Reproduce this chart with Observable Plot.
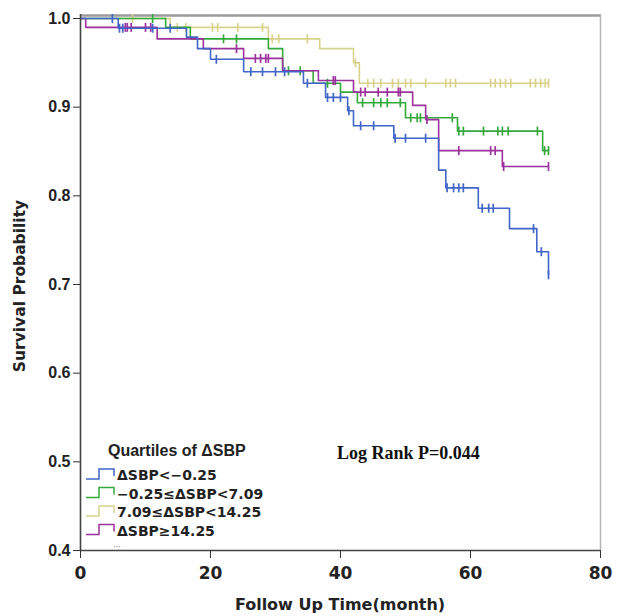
<!DOCTYPE html>
<html><head><meta charset="utf-8">
<script src="https://cdn.jsdelivr.net/npm/d3@7"></script>
<script src="https://cdn.jsdelivr.net/npm/@observablehq/plot@0.6"></script>
<style>
body{margin:0;background:#fff;}
#chart{width:623px;height:616px;}
</style></head><body><div id="chart"></div>
<script>
// ---- data ----
const groups = ["ΔSBP<−0.25", "−0.25≤ΔSBP<7.09", "7.09≤ΔSBP<14.25", "ΔSBP≥14.25"];
const colors = ["#4165c8", "#35a83c", "#d8d28c", "#9b329b"];
const legendTitle = "Quartiles of ΔSBP";
const statText = "Log Rank P=0.044";
const xTitle = "Follow Up Time(month)";
const yTitle = "Survival Probability";
const xTicks = [0, 20, 40, 60, 80];
const yTicks = [0.4, 0.5, 0.6, 0.7, 0.8, 0.9, 1.0];
const maxTime = 72;

// blue: ΔSBP<−0.25
const blueTimes = [5.8, 16.3, 18.0, 20.0, 25.1, 34.3, 37.7, 41.1, 42.0, 48.2, 55.1, 56.2, 61.2, 66.0, 70.2, 72.0];
const blueSurv  = [0.989, 0.979, 0.966, 0.954, 0.940, 0.927, 0.911, 0.896, 0.879, 0.865, 0.829, 0.809, 0.786, 0.763, 0.737, 0.711];
const blueCensor = [4.9, 6.0, 6.5, 11.1, 13.8, 20.9, 26.2, 28.0, 30.0, 31.4, 34.9, 38.0, 38.9, 40.0, 41.3, 43.1, 45.1, 48.4, 50.0, 53.1, 56.4, 57.4, 58.2, 58.9, 61.8, 62.8, 63.5, 69.7, 70.9, 72.0];

// green: −0.25≤ΔSBP<7.09
const greenTimes = [13.1, 16.9, 28.9, 31.1, 35.8, 40.0, 42.6, 50.0, 58.0, 71.1];
const greenSurv  = [0.990, 0.977, 0.966, 0.941, 0.927, 0.917, 0.905, 0.888, 0.873, 0.851];
const greenCensor = [11.1, 22.0, 24.0, 32.0, 33.8, 38.0, 43.4, 45.1, 46.2, 47.2, 49.2, 50.8, 51.8, 52.3, 57.2, 58.2, 58.9, 62.0, 64.2, 64.9, 65.8, 70.3, 71.4, 72.0];

// yellow: 7.09≤ΔSBP<14.25
const yellowTimes = [13.8, 28.9, 36.8, 42.0, 42.9];
const yellowSurv  = [0.990, 0.977, 0.966, 0.950, 0.927];
const yellowCensor = [8.0, 14.9, 16.2, 20.3, 21.1, 24.2, 28.0, 29.5, 30.5, 34.9, 42.3, 44.2, 45.1, 46.2, 48.0, 48.9, 50.0, 50.8, 53.1, 56.2, 56.9, 57.7, 63.1, 63.8, 64.6, 65.4, 66.2, 69.2, 70.0, 70.8, 71.5, 72.0];

// purple: ΔSBP≥14.25
const purpleTimes = [0.8, 11.8, 18.9, 25.1, 31.1, 36.6, 42.0, 51.1, 53.1, 55.1, 64.9];
const purpleSurv  = [0.990, 0.977, 0.966, 0.955, 0.941, 0.930, 0.917, 0.902, 0.886, 0.851, 0.833];
const purpleCensor = [6.9, 7.2, 7.8, 10.0, 10.8, 24.0, 26.9, 27.7, 28.5, 28.9, 38.9, 39.2, 43.1, 43.8, 45.8, 47.2, 48.9, 49.2, 53.3, 58.2, 63.1, 63.8, 65.1, 72.0];

// ---- build tables ----
const series = [
  [blueTimes, blueSurv, blueCensor],
  [greenTimes, greenSurv, greenCensor],
  [yellowTimes, yellowSurv, yellowCensor],
  [purpleTimes, purpleSurv, purpleCensor]
];
const stepPts = [], censPts = [];
series.forEach(([T, S, C], i) => {
  const g = groups[i];
  stepPts.push({t: 0, s: 1, g});
  T.forEach((t, k) => stepPts.push({t, s: S[k], g}));
  stepPts.push({t: maxTime, s: S[S.length - 1], g});
  C.forEach(c => {
    let s = 1;
    T.forEach((t, k) => { if (t <= c) s = S[k]; });
    censPts.push({t: c, s, g});
  });
});
const order = [2, 1, 3, 0];

const vbar = {draw(ctx, size) { const r = Math.sqrt(size / Math.PI); ctx.moveTo(0, -r); ctx.lineTo(0, r); }};

const marks = [];
order.forEach(i => {
  const g = groups[i];
  marks.push(Plot.line(stepPts.filter(d => d.g === g), {x: "t", y: "s", curve: "step-after", stroke: colors[i], strokeWidth: 1.6}));
  marks.push(Plot.dot(censPts.filter(d => d.g === g), {x: "t", y: "s", symbol: vbar, r: 4.5, stroke: colors[i], strokeWidth: 1.7, fill: "none"}));
});

const chart = Plot.plot({
  width: 623, height: 616,
  marginLeft: 80, marginRight: 23, marginTop: 18, marginBottom: 66,
  style: {background: "#fff", overflow: "visible", color: "#222"},
  x: {domain: [0, 80]},
  y: {domain: [0.4, 1.0]},
  marks: [
    Plot.ruleY([1.0], {stroke: "#9a9a9a", strokeWidth: 2.5, dy: -3}),
    Plot.ruleX([80], {stroke: "#b5b5b5", strokeWidth: 1.5, insetTop: -4}),
    ...marks,
    Plot.ruleX([0], {stroke: "#444", strokeWidth: 1.6, insetTop: -4}),
    Plot.ruleY([0.4], {stroke: "#444", strokeWidth: 1.6}),
    Plot.axisX({ticks: xTicks, tickSize: 8, tickPadding: 8, stroke: "#333", label: null,
      fontFamily: "'DejaVu Sans', sans-serif", fontSize: 17, fontWeight: "bold", fill: "#222"}),
    Plot.axisY({ticks: yTicks, tickSize: 7, tickPadding: 3, tickFormat: d3.format(".1f"), stroke: "#333", label: null,
      fontFamily: "'Liberation Sans', Arial, sans-serif", fontSize: 16, fontWeight: "bold", fill: "#222"})
  ]
});
document.getElementById("chart").appendChild(chart);

// ---- titles, legend and annotation ----
const svg = d3.select(chart);
svg.append("text").attr("x", 340).attr("y", 610).attr("text-anchor", "middle")
  .attr("font-family", "'DejaVu Sans', sans-serif").attr("font-size", 16).attr("font-weight", "bold").attr("fill", "#222").text(xTitle);
svg.append("text").attr("transform", "translate(25,286) rotate(-90)").attr("text-anchor", "middle")
  .attr("font-family", "'DejaVu Sans', sans-serif").attr("font-size", 15.5).attr("font-weight", "bold").attr("fill", "#222").text(yTitle);

const lg = svg.append("g").attr("font-family", "'DejaVu Sans', sans-serif").attr("fill", "#222").attr("text-anchor", "start");
lg.append("text").attr("x", 108).attr("y", 456).attr("font-size", 16).attr("font-weight", "bold").attr("font-family", "'Liberation Sans', Arial, sans-serif").text(legendTitle);
groups.forEach((g, i) => {
  const y = 475 + i * 18.5;
  lg.append("path").attr("d", `M86,${y + 4}H99V${y - 6}H114V${y + 1}`).attr("fill", "none").attr("stroke", colors[i]).attr("stroke-width", 1.5);
  lg.append("text").attr("x", 117).attr("y", y + 5).attr("font-size", 14).attr("font-weight", "bold").text(g);
});
lg.append("text").attr("x", 113).attr("y", 547).attr("font-size", 8).attr("fill", "#777").text("...");
svg.append("text").attr("x", 337).attr("y", 459).attr("text-anchor", "start").attr("font-family", "'Liberation Serif', 'DejaVu Serif', serif")
  .attr("font-size", 18).attr("font-weight", "bold").attr("fill", "#111").text(statText);
</script></body></html>
